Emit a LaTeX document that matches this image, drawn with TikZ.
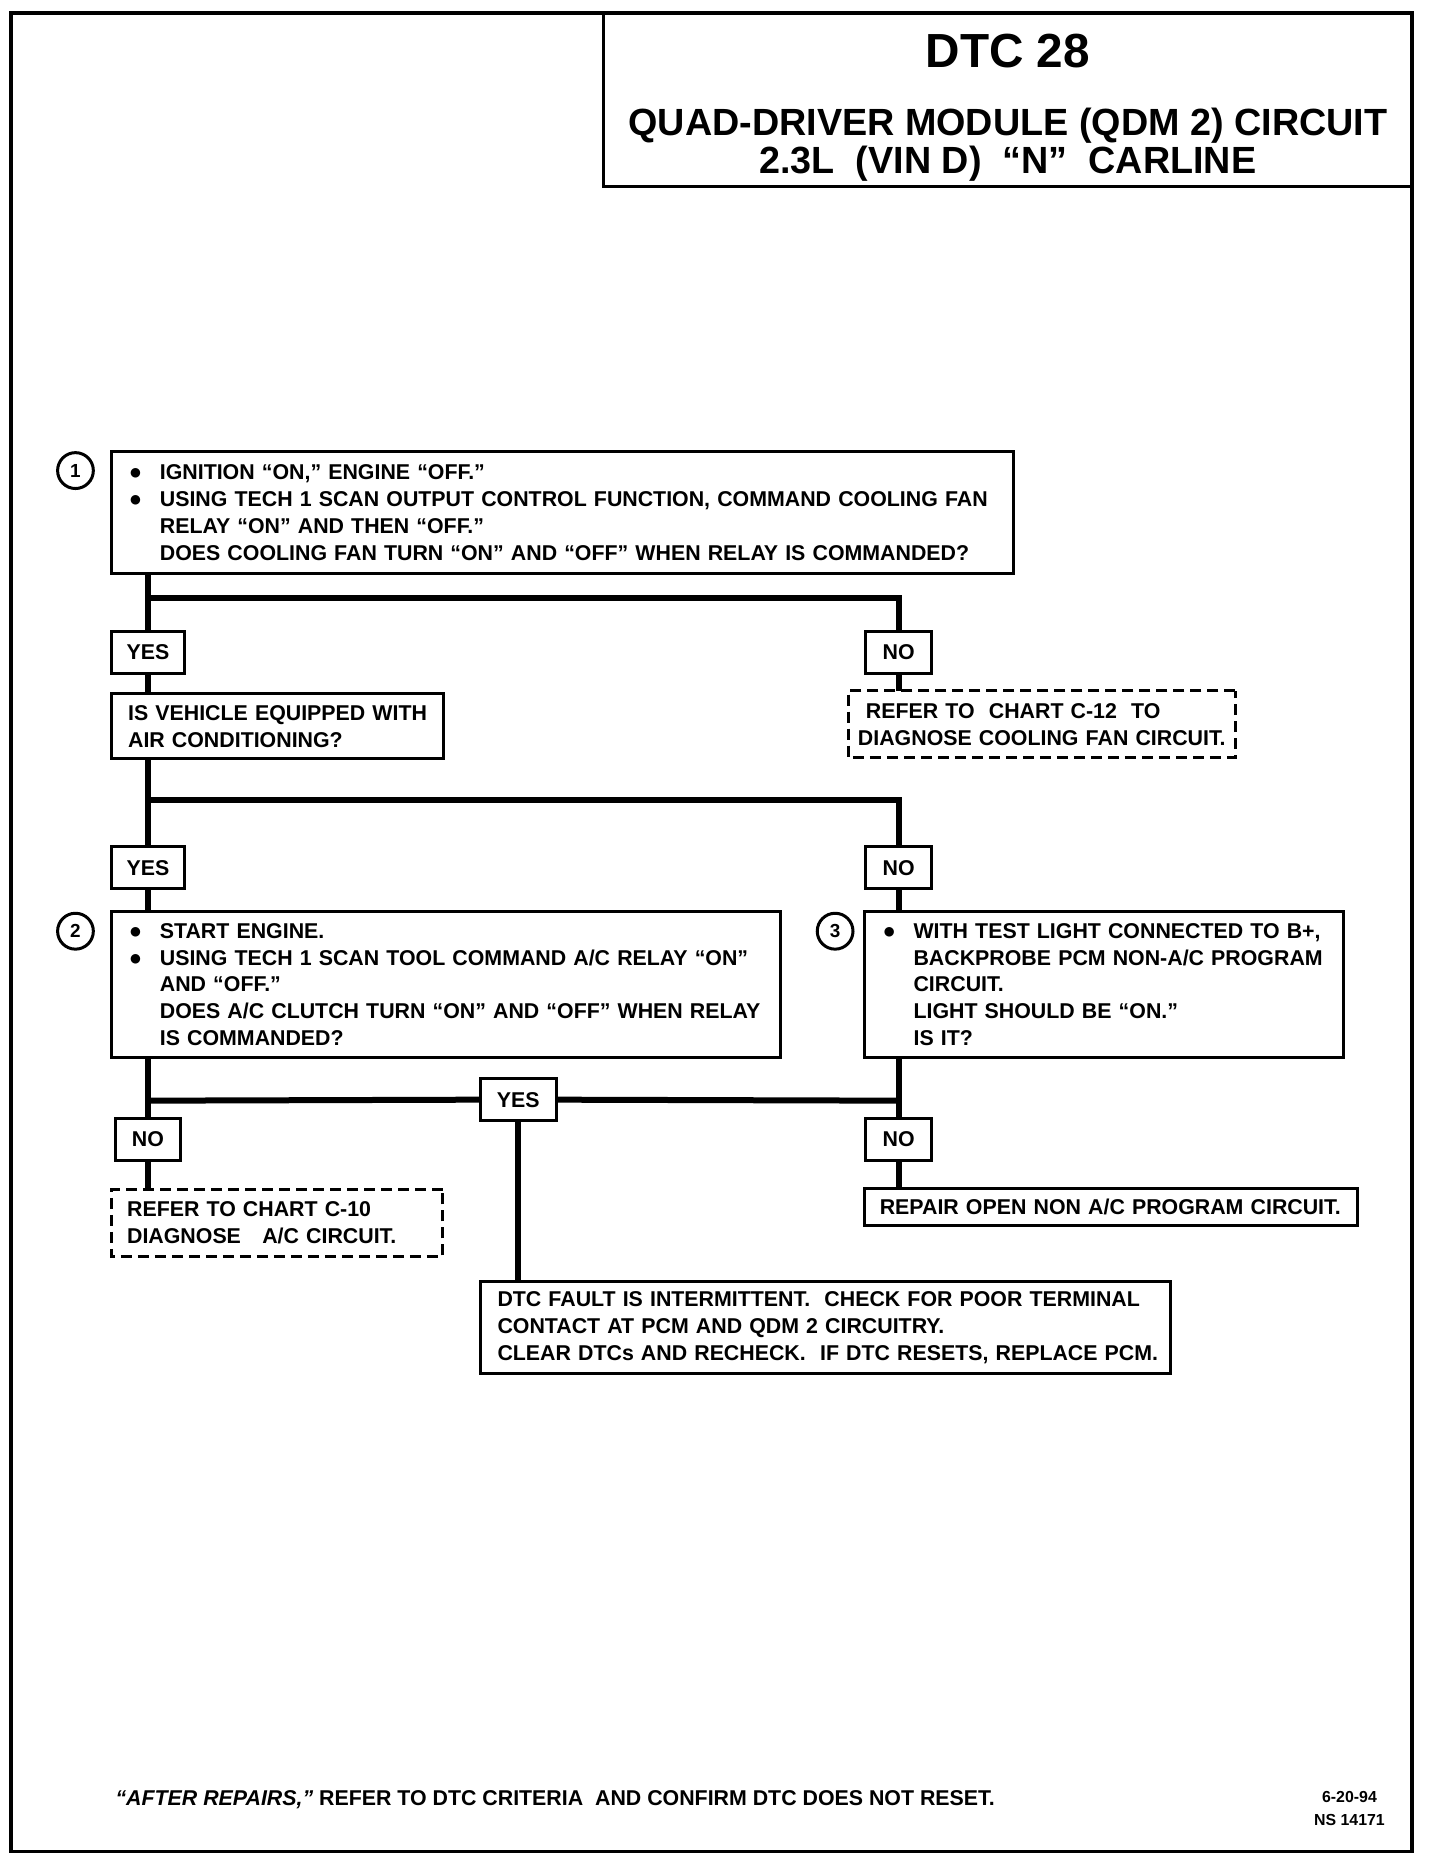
\documentclass[tikz,border=0pt]{standalone}
\usepackage{fontspec}
\setmainfont{Liberation Sans}
\newfontfamily\dotfont{DejaVu Sans}
\usetikzlibrary{backgrounds}
\newcommand\boxfont{\bfseries\fontsize{21.5}{27}\selectfont}
\newcommand\numfont{\bfseries\fontsize{19}{19}\selectfont}
\newcommand\mydot{\raisebox{2.5pt}{\dotfont\fontsize{12.5}{12.5}\selectfont ●}}
\newcommand\bl[1]{\mbox{\makebox[30pt][l]{\mydot}#1}}
\newcommand\nl[1]{\mbox{\hspace*{30pt}#1}}
\newcommand\pl[1]{\mbox{#1}}
\begin{document}
\begin{tikzpicture}[xscale=0.993,yscale=0.997,x=1pt,y=-1pt,
  every node/.style={outer sep=0pt, transform shape},
  box/.style={draw, line width=3pt, fill=white, inner ysep=0pt, align=left, anchor=north west, font=\boxfont},
  dbox/.style={box, dash pattern=on 11pt off 6pt},
  lbl/.style={draw, line width=3pt, fill=white, minimum height=42pt, inner sep=0pt, font=\boxfont},
  num/.style={circle, draw, line width=3pt, minimum size=36pt, inner sep=0pt, fill=white, font=\numfont},
  conn/.style={line width=6pt},
]
\useasboundingbox (0,0) rectangle (1450.15,1865.6);
% frame and title
\draw[line width=3.5pt] (11,13) rectangle (1422,1857);
\node[draw, line width=3pt, anchor=north east, minimum width=814pt, minimum height=174pt] (title) at (1422,13) {};
\node[anchor=base, font=\bfseries\fontsize{48}{48}\selectfont] (t1) at (1015,68) {DTC 28};
\node[anchor=base, font=\bfseries\fontsize{38}{40}\selectfont] (t2) at (1015,136) {QUAD-DRIVER MODULE (QDM 2) CIRCUIT};
\node[anchor=base, font=\bfseries\fontsize{38}{40}\selectfont] (t3) at (1015,174) {2.3L\ \ (VIN D)\ \ “N”\ \ CARLINE};

% boxes
\node[box, inner xsep=19pt, text width=871pt, minimum height=122pt] (b1) at (112,453)
  {\bl{IGNITION “ON,” ENGINE “OFF.”}\\
   \bl{USING TECH 1 SCAN OUTPUT CONTROL FUNCTION, COMMAND COOLING FAN}\\
   \nl{RELAY “ON” AND THEN “OFF.”}\\
   \nl{DOES COOLING FAN TURN “ON” AND “OFF” WHEN RELAY IS COMMANDED?}};
\node[num] (n1) at (76,472) {1};

\node[lbl, minimum width=74pt] (yes1) at (149,654.5) {YES};
\node[lbl, minimum width=66pt] (no1) at (905,654.5) {NO};

\node[box, inner xsep=17pt, text width=301pt, minimum height=65pt] (veh) at (112,696)
  {\pl{IS VEHICLE EQUIPPED WITH}\\ \pl{AIR CONDITIONING?}};
\node[dbox, inner xsep=10pt, text width=370pt, minimum height=67pt] (c12) at (854,693)
  {\pl{\hspace*{8pt}REFER TO\ \ CHART C-12\ \ TO}\\ \pl{DIAGNOSE COOLING FAN CIRCUIT.}};

\node[lbl, minimum width=74pt] (yes2) at (149,870.5) {YES};
\node[lbl, minimum width=66pt] (no2) at (905,870.5) {NO};

\node[box, inner xsep=19pt, text width=636pt, minimum height=147pt] (b2) at (112,914)
  {\bl{START ENGINE.}\\
   \bl{USING TECH 1 SCAN TOOL COMMAND A/C RELAY “ON”}\\
   \nl{AND “OFF.”}\\
   \nl{DOES A/C CLUTCH TURN “ON” AND “OFF” WHEN RELAY}\\
   \nl{IS COMMANDED?}};
\node[num] (n2) at (76,934) {2};

\node[box, inner xsep=19pt, text width=444pt, minimum height=147pt] (b3) at (871,914)
  {\bl{WITH TEST LIGHT CONNECTED TO B+,}\\
   \nl{BACKPROBE PCM NON-A/C PROGRAM}\\
   \nl{CIRCUIT.}\\
   \nl{LIGHT SHOULD BE “ON.”}\\
   \nl{IS IT?}};
\node[num] (n3) at (841,934) {3};

\node[lbl, minimum width=76pt] (yesm) at (522,1103) {YES};
\node[lbl, minimum width=66pt] (nol) at (149,1142.5) {NO};
\node[lbl, minimum width=66pt] (nor) at (905,1142.5) {NO};

\node[dbox, inner xsep=16pt, text width=302pt, minimum height=67pt] (c10) at (112,1193)
  {\pl{REFER TO CHART C-10}\\ \pl{DIAGNOSE\ \ \ A/C CIRCUIT.}};
\node[box, inner xsep=15pt, text width=466pt, minimum height=37pt] (rep) at (871,1192)
  {\pl{REPAIR OPEN NON A/C PROGRAM CIRCUIT.}};
\node[box, inner xsep=17pt, text width=661pt, minimum height=93pt] (dtc) at (484,1285)
  {\pl{DTC FAULT IS INTERMITTENT.\ \ CHECK FOR POOR TERMINAL}\\
   \pl{CONTACT AT PCM AND QDM 2 CIRCUITRY.}\\
   \pl{CLEAR DTCs AND RECHECK.\ \ IF DTC RESETS, REPLACE PCM.}};

% footer
\node[anchor=base west, font=\boxfont] (foot) at (113,1811)
  {\textit{“AFTER REPAIRS,”} REFER TO DTC CRITERIA\ \ AND CONFIRM DTC DOES NOT RESET.};
\node[anchor=base, font=\bfseries\fontsize{16}{20}\selectfont] (date) at (1359,1808) {6-20-94};
\node[anchor=base, font=\bfseries\fontsize{16}{20}\selectfont] (ns) at (1359,1831) {NS 14171};

% connectors
\coordinate (j1) at (149,600);
\coordinate (j2) at (149,802);
\coordinate (j3) at (149,1104);
\coordinate (j4) at (905,1104);
\begin{scope}[on background layer]
\draw[conn] (b1.south -| j1) -- (yes1.north);
\draw[conn] (j1) -| (no1.north);
\draw[conn] (yes1.south) -- (veh.north -| yes1);
\draw[conn] (no1.south) -- (c12.north -| no1);
\draw[conn] (veh.south -| j2) -- (yes2.north);
\draw[conn] (j2) -| (no2.north);
\draw[conn] (yes2.south) -- (b2.north -| yes2);
\draw[conn] (no2.south) -- (b3.north -| no2);
\draw[conn] (b2.south -| j3) -- (nol.north);
\draw[conn] (j3) -- (yesm.west);
\draw[conn] (yesm.east) -- (j4);
\draw[conn] (b3.south -| nor) -- (nor.north);
\draw[conn] (nol.south) -- (c10.north -| nol);
\draw[conn] (nor.south) -- (rep.north -| nor);
\draw[conn] (yesm.south) -- (dtc.north -| yesm);
\end{scope}
\end{tikzpicture}
\end{document}
